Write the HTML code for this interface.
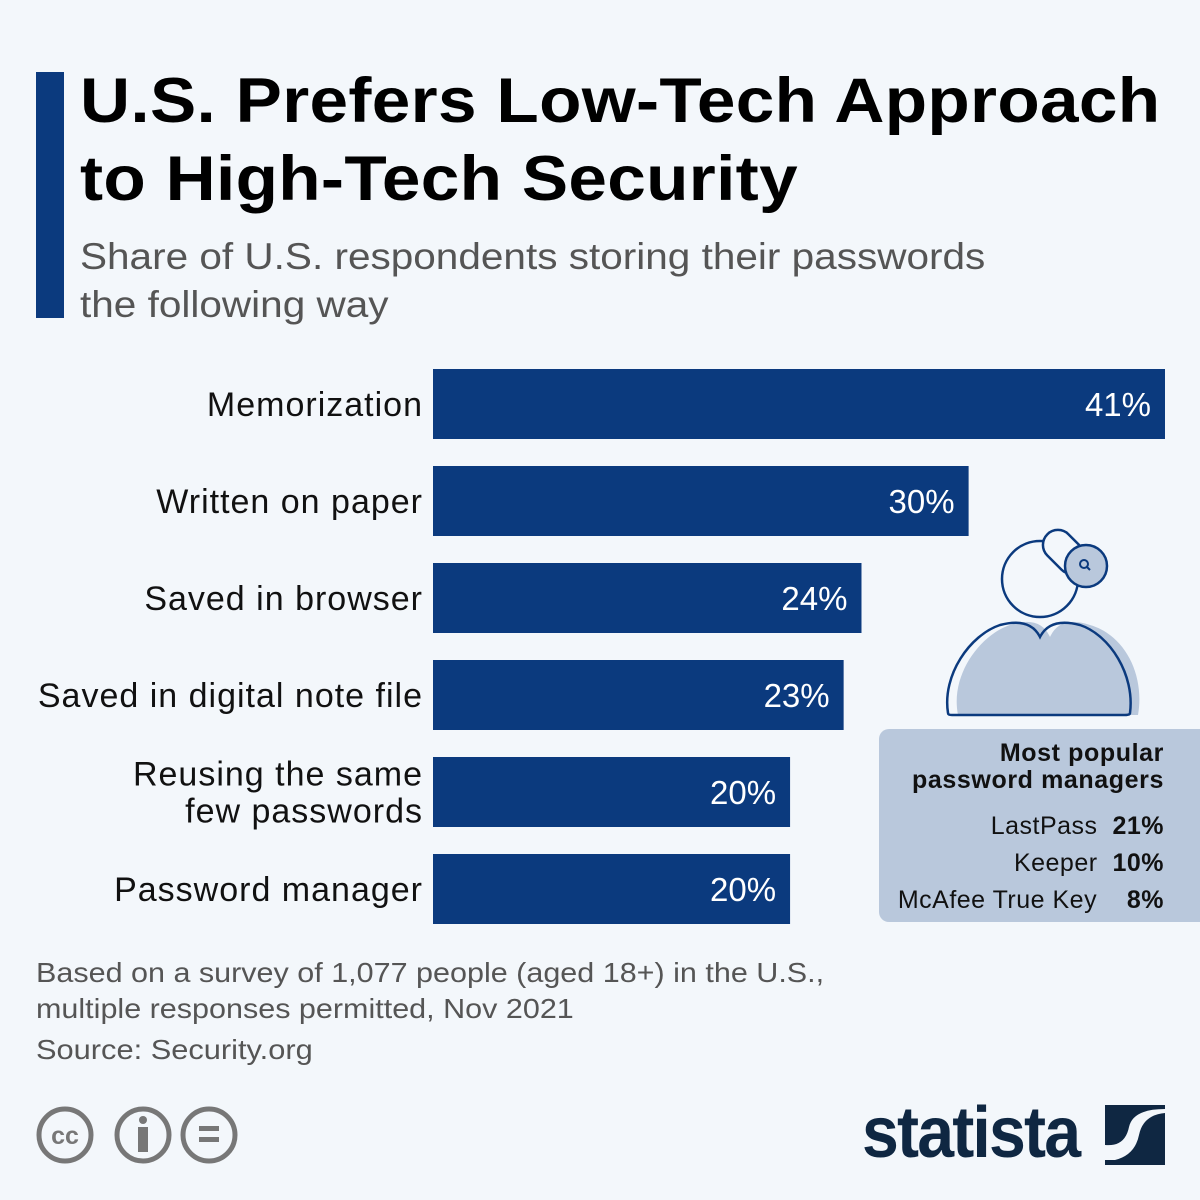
<!DOCTYPE html>
<html><head><meta charset="utf-8"><style>
body{margin:0;width:1200px;height:1200px;background:#f3f7fb;font-family:"Liberation Sans","DejaVu Sans",sans-serif;position:relative;overflow:hidden}
.a{position:absolute}
</style></head><body>
<div class="a" style="left:36px;top:72px;width:28px;height:246px;background:#0b3a7e"></div>
<div class="a" style="left:80px;top:62px;font-size:63px;font-weight:bold;line-height:78px;color:#000;letter-spacing:0.3px;white-space:nowrap;transform:scaleX(1.1);transform-origin:left top">U.S. Prefers Low-Tech Approach<br>to High-Tech Security</div>
<div class="a" style="left:80px;top:233px;font-size:37px;line-height:48px;color:#555;white-space:nowrap;transform:scaleX(1.095);transform-origin:left top">Share of U.S. respondents storing their passwords<br>the following way</div>
<svg class="a" style="left:0;top:0" width="1200" height="1200" id="chart"></svg>
<div class="a" style="left:879px;top:729px;width:340px;height:193px;background:#b9c8dc;border-radius:10px"></div>
<div class="a" style="left:880px;top:740px;width:284px;text-align:right;font-size:25px;color:#111">
<div style="font-weight:bold;line-height:27px;letter-spacing:0.6px">Most popular<br>password managers</div>
<div style="margin-top:14px;line-height:37px;letter-spacing:0.5px">LastPass&nbsp; <b>21%</b><br>Keeper&nbsp; <b>10%</b><br>McAfee True Key&nbsp;&nbsp;&nbsp; <b>8%</b></div>
</div>
<svg class="a" style="left:940px;top:525px" width="210" height="200">
<path d="M18 190 C10 150 40 110 70 100 Q100 90 110 112 Q120 90 150 100 C185 110 205 150 198 190 Z" fill="#b9c8dc"/>
<path d="M8 188 C2 150 30 110 60 100 Q90 92 100 112 Q110 92 140 100 C170 110 195 150 190 188 Q190 190 185 190 L12 190 Q8 190 8 188 Z" fill="none" stroke="#0b3a7e" stroke-width="2.5"/>
<circle cx="100" cy="54" r="38" fill="none" stroke="#0b3a7e" stroke-width="2.5"/>
<rect x="110" y="2" width="30" height="50" rx="15" transform="rotate(-45 125 27)" fill="#f3f7fb" stroke="#0b3a7e" stroke-width="2.5"/>
<circle cx="146" cy="41" r="21" fill="#b9c8dc" stroke="#0b3a7e" stroke-width="2.5"/>
<circle cx="144" cy="39" r="4" fill="none" stroke="#0b3a7e" stroke-width="2"/>
<line x1="147" y1="42" x2="150" y2="45" stroke="#0b3a7e" stroke-width="2"/>
</svg>
<div class="a" style="left:36px;top:955px;font-size:28px;line-height:36px;color:#555;white-space:nowrap;transform:scaleX(1.09);transform-origin:left top">Based on a survey of 1,077 people (aged 18+) in the U.S.,<br>multiple responses permitted, Nov 2021</div>
<div class="a" style="left:36px;top:1034px;font-size:28px;color:#555;white-space:nowrap;transform:scaleX(1.1);transform-origin:left top">Source: Security.org</div>
<svg class="a" style="left:34px;top:1104px" width="210" height="62">
<g fill="none" stroke="#777" stroke-width="5"><circle cx="31" cy="31" r="26"/><circle cx="109" cy="31" r="26"/><circle cx="175" cy="31" r="26"/></g>
<text x="31" y="40" text-anchor="middle" font-size="25" font-weight="bold" fill="#777" font-family="Liberation Sans">cc</text>
<circle cx="109" cy="16" r="4" fill="#777"/><rect x="104" y="23" width="10" height="25" fill="#777"/>
<rect x="165" y="22" width="20" height="5" fill="#777"/><rect x="165" y="33" width="20" height="5" fill="#777"/>
</svg>
<div class="a" style="left:862px;top:1092px;font-size:72px;font-weight:bold;color:#0f2742;letter-spacing:-2px;transform:scaleX(0.92);transform-origin:left">statista</div>
<svg class="a" style="left:1105px;top:1105px" width="60" height="60">
<rect width="60" height="60" fill="#0f2742"/><path d="M0 40 Q20 42 24 22 Q28 4 60 4 L60 8 Q38 10 34 30 Q30 50 10 55 L0 55 Z" fill="#f3f7fb"/>
</svg>
<script>
const categories=["Memorization","Written on paper","Saved in browser","Saved in digital note file","Reusing the same|few passwords","Password manager"];
const values=[41,30,24,23,20,20];
const valueLabels=["41%","30%","24%","23%","20%","20%"];
const svg=document.getElementById('chart');
const NS="http://www.w3.org/2000/svg";
const x0=433,scale=732/41,y0=369,step=97,bh=70;
function xs(v){return v*scale;}
function yb(i){return y0+i*step;}
categories.forEach((c,i)=>{
  const r=document.createElementNS(NS,'rect');
  r.setAttribute('x',x0);r.setAttribute('y',yb(i));r.setAttribute('width',xs(values[i]));r.setAttribute('height',bh);r.setAttribute('fill','#0b3a7e');
  
  
  svg.appendChild(r);
  const t=document.createElementNS(NS,'text');
  t.setAttribute('x',x0+xs(values[i])-14);t.setAttribute('y',yb(i)+bh/2+12);t.setAttribute('text-anchor','end');
  t.setAttribute('font-size','33');t.setAttribute('fill','#fff');t.setAttribute('font-family','Liberation Sans, sans-serif');
  t.textContent=valueLabels[i];
  
  
  svg.appendChild(t);
  const lines=c.split('|');
  lines.forEach((ln,j)=>{
    const l=document.createElementNS(NS,'text');
    const cy=yb(i)+bh/2+12+(j-(lines.length-1)/2)*37;
    l.setAttribute('x',423);l.setAttribute('y',cy);l.setAttribute('text-anchor','end');
    l.setAttribute('font-size','34');l.setAttribute('fill','#111');l.setAttribute('font-family','Liberation Sans, sans-serif');
    l.setAttribute('letter-spacing','1');
    l.textContent=ln;
    
    
    svg.appendChild(l);
  });
});
</script>
</body></html>
